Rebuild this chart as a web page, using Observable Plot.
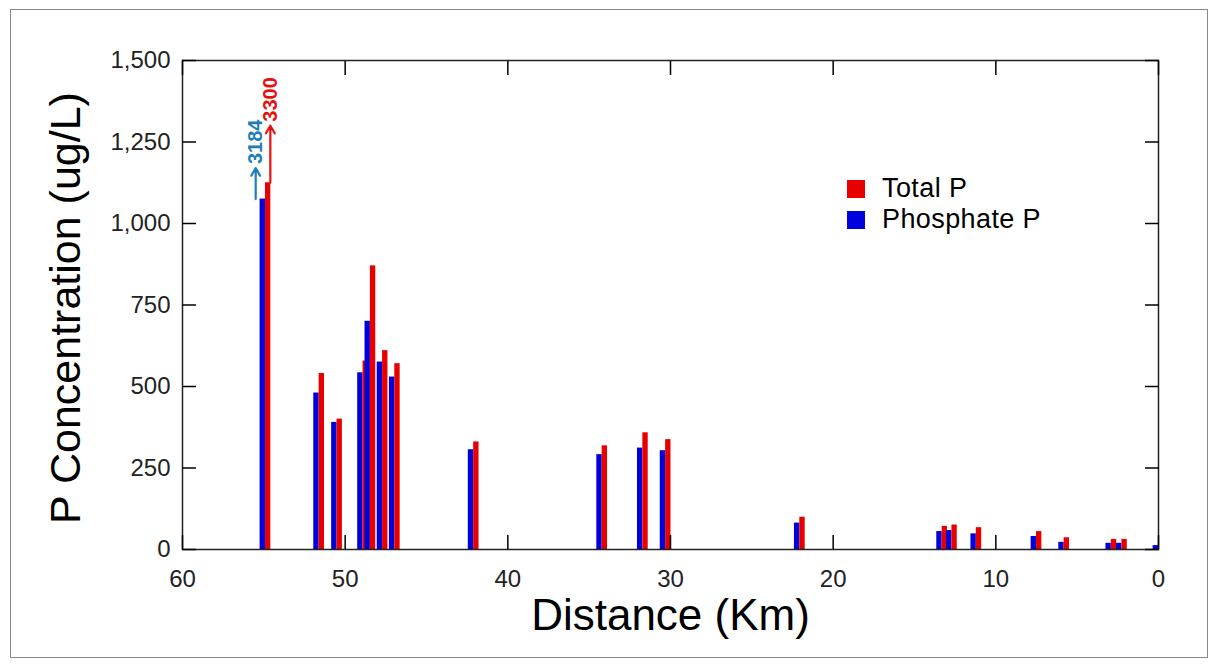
<!DOCTYPE html>
<html>
<head>
<meta charset="utf-8">
<script src="https://cdn.jsdelivr.net/npm/d3@7"></script>
<script src="https://cdn.jsdelivr.net/npm/@observablehq/plot@0.6"></script>
<style>
  html, body { margin: 0; padding: 0; background: #fff; }
  #wrap { position: relative; width: 1218px; height: 667px; font-family: "Liberation Sans", Arial, sans-serif; }
  #border { position: absolute; left: 10px; top: 9px; width: 1196px; height: 647px; border: 1px solid #8a8a8a; pointer-events: none; }
  #legend { position: absolute; left: 847px; top: 173px; font-size: 27px; letter-spacing: 0.4px; color: #000; line-height: 31px; }
  .item { display: flex; align-items: center; }
  .sw { width: 18px; height: 18px; margin-right: 17px; }
</style>
</head>
<body>
<div id="wrap"><div id="chart"></div><div id="border"></div><div id="legend"></div></div>
<script>
// Sampling stations (distance, km) and concentrations (ug/L)
const stations  = [54.9, 51.6, 50.5, 48.9, 48.45, 47.7, 46.95, 42.1, 34.2, 31.7, 30.3, 22.05, 13.3, 12.7, 11.2, 7.5, 5.8, 2.9, 2.25, 0];
// first station values are drawn truncated (true values shown by annotations)
const phosphate = [1075, 480, 390, 542, 700, 575, 529, 306, 291, 311, 303, 81, 55, 58, 48, 40, 22, 19, 19, 12];
const totalP    = [1125, 540, 400, 578, 870, 610, 570, 330, 318, 358, 337, 99, 71, 75, 67, 55, 36, 31, 31, null];
const seriesNames = ["Total P", "Phosphate P"];
const seriesColors = ["#e80000", "#0000dd"];
const xTicks = [60, 50, 40, 30, 20, 10, 0];
const yTicks = [0, 250, 500, 750, 1000, 1250, 1500];
// off-scale annotations
const annoLabels = ["3184", "3300"];
const annoKm = [55.5, 54.6];
const annoBase = [1075, 1125];
const annoTip = [1170, 1300];
const annoColors = ["#1f7fb5", "#e81010"];

const w = 0.33;
const bars = [];
stations.forEach((s, i) => {
  bars.push({series: "Phosphate P", x1: s, x2: s + w, v: phosphate[i]});
  if (totalP[i] != null) bars.push({series: "Total P", x1: s - w, x2: s, v: totalP[i]});
});
const annos = annoLabels.map((t, i) => ({label: t, km: annoKm[i], base: annoBase[i], tip: annoTip[i], color: annoColors[i]}));

const annoMarks = annos.flatMap(a => [
  Plot.arrow([a], {x: "km", y1: "base", y2: "tip", stroke: a.color, strokeWidth: 2.2, headLength: 6, insetStart: 0, insetEnd: 0}),
  Plot.text([a], {x: "km", y: "tip", text: "label", rotate: -90, textAnchor: "start", lineAnchor: "middle", dy: -4, fill: a.color, fontWeight: "bold", fontSize: 20, fontFamily: "Liberation Sans, Arial, sans-serif"})
]);

const chart = Plot.plot({
  width: 1218,
  height: 667,
  marginLeft: 182,
  marginRight: 60,
  marginTop: 60,
  marginBottom: 118,
  style: {fontFamily: "Liberation Sans, Arial, sans-serif", color: "#000", background: "transparent"},
  x: {domain: [60, 0]},
  y: {domain: [0, 1500]},
  color: {domain: seriesNames, range: seriesColors},
  marks: [
    Plot.rect(bars, {x1: "x1", x2: "x2", y1: () => 0, y2: "v", fill: "series"}),
    ...annoMarks,
    Plot.frame({stroke: "#222", strokeWidth: 1.5}),
    Plot.axisX({anchor: "bottom", ticks: xTicks, tickSize: 14, dy: -14, fill: "none", strokeWidth: 1.5, label: null}),
    Plot.axisX({anchor: "top", ticks: xTicks, tickSize: 14, dy: 14, fill: "none", strokeWidth: 1.5, label: null}),
    Plot.axisY({anchor: "left", ticks: yTicks, tickSize: 14, dx: 14, fill: "none", strokeWidth: 1.5, label: null}),
    Plot.axisY({anchor: "right", ticks: yTicks, tickSize: 14, dx: -14, fill: "none", strokeWidth: 1.5, label: null}),
    Plot.axisX({anchor: "bottom", ticks: xTicks, tickSize: 0, tickPadding: 20, fontSize: 24, fill: "#222", label: null}),
    Plot.axisY({anchor: "left", ticks: yTicks, tickSize: 0, tickPadding: 12, tickFormat: d3.format(","), fontSize: 24, fill: "#222", label: null}),
    Plot.text(["Distance (Km)"], {frameAnchor: "bottom", dy: 66, textAnchor: "middle", lineAnchor: "middle", fontSize: 44, fill: "#000"}),
    Plot.text(["P Concentration (ug/L)"], {frameAnchor: "left", dx: -116, dy: 3, rotate: -90, textAnchor: "middle", lineAnchor: "middle", fontSize: 43, fill: "#000"})
  ]
});
document.getElementById("chart").appendChild(chart);

const legend = document.getElementById("legend");
seriesNames.forEach((n, i) => {
  const d = document.createElement("div");
  d.className = "item";
  d.innerHTML = `<span class="sw" style="background:${seriesColors[i]}"></span><span>${n}</span>`;
  legend.appendChild(d);
});
</script>
</body>
</html>
